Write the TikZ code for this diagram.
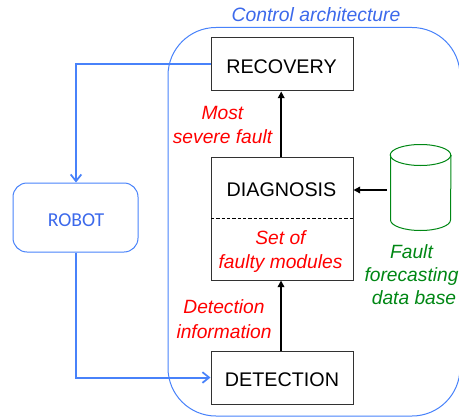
\documentclass[tikz,border=0pt]{standalone}
\usepackage{fontspec}
\setmainfont{Liberation Sans}
\newfontfamily\robotfont{Carlito}
\usetikzlibrary{arrows.meta}
\definecolor{blueline}{RGB}{72,130,250}
\definecolor{bluetext}{RGB}{60,105,235}
\definecolor{darkgreen}{RGB}{0,135,20}
\definecolor{boxgray}{RGB}{50,50,50}
\tikzset{
  x=0.75pt,y=-0.75pt,
  modulebox/.style={draw=boxgray,line width=0.75pt,minimum width=106.5pt,inner sep=0pt},
  boxtext/.style={font=\fontsize{14.8}{17}\selectfont,inner sep=0pt},
  redlabel/.style={text=red,align=center,font=\fontsize{14.4}{18.6}\selectfont\itshape,inner sep=0pt},
  bluelink/.style={draw=blueline,line width=1.5pt,-{Straight Barb[length=5pt,width=8pt,line width=1.3pt]}},
  blacklink/.style={draw=black,line width=1.1pt,-{Triangle[length=5pt,width=5pt]}},
}
\begin{document}
\begin{tikzpicture}
\useasboundingbox (0,0) rectangle (459,417);
\begin{scope}
\clip (0,0) rectangle (459,417);
\draw[blueline,line width=0.75pt,rounded corners=36pt] (168,27.5) rectangle (460,416);
\end{scope}
\node[text=bluetext,font=\fontsize{14.5}{17}\selectfont\itshape,inner sep=0pt] (title) at (316,14.5) {Control architecture};
\node[modulebox,minimum height=39.75pt] (recovery) at (282,64.5) {};
\node[boxtext] (rectext) at (281.5,66.5) {RECOVERY};
\node[modulebox,minimum height=92.25pt] (diag) at (282,218.5) {};
\node[boxtext] (diagtext) at (281.5,189.5) {DIAGNOSIS};
\coordinate (dl) at (211,218.5);
\coordinate (dr) at (353,218.5);
\draw[black,line width=0.6pt,dash pattern=on 2.5pt off 1.5pt] (dl) -- (dr);
\node[modulebox,minimum height=39.75pt] (detection) at (282,377.5) {};
\node[boxtext] (dettext) at (282,379.5) {DETECTION};
\node[draw=blueline,line width=0.75pt,rounded corners=10.5pt,minimum width=93.75pt,minimum height=51.75pt,inner sep=0pt] (robot) at (75.5,217.5) {};
\node[text=bluetext,font=\robotfont\fontsize{14.8}{17}\selectfont,inner sep=0pt] (robottext) at (76,220) {ROBOT};
\node[redlabel] (most) at (222.5,125) {Most\\severe fault};
\node[redlabel] (set) at (280.5,251.5) {Set of\\faulty modules};
\node[redlabel] (det) at (224,319) {Detection\\information};
\node[text=darkgreen,align=center,font=\fontsize{14.4}{17.4}\selectfont\itshape,inner sep=0pt] (fault) at (411.5,274.5) {Fault\\forecasting\\\hspace*{3.75pt}data base};
% cylinder
\coordinate (cyl) at (420.5,155);
\draw[darkgreen,line width=0.75pt] (390.5,155) -- (390.5,220) arc[start angle=180,end angle=360,x radius=30,y radius=-10.5] -- (451,155);
\draw[darkgreen,line width=0.75pt] (cyl) ellipse[x radius=30.25,y radius=10.5];
\coordinate (cylw) at (387,190);
\coordinate (diagE) at (353.5,190);
\draw[blacklink] (cylw) -- (diagE);
\draw[blacklink] (diag.north -| 281.2,0) -- (recovery.south -| 281.2,0);
\draw[blacklink] (detection.north -| 281,0) -- (diag.south -| 281,0);
\coordinate (recW) at (recovery.west);
\draw[bluelink] (recW) -- (76,64.5) -- (robot.north -| 76,0);
\draw[bluelink] (robot.south -| 76,0) -- (76,377.5) -- (detection.west);
\end{tikzpicture}
\end{document}
